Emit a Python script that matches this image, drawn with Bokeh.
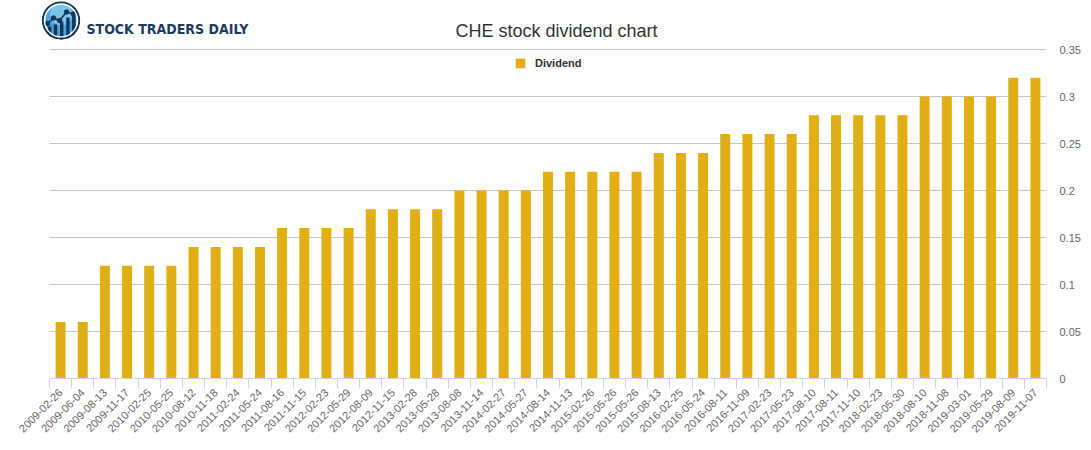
import math
from bokeh.plotting import figure
from bokeh.models import Range1d, FixedTicker, LinearAxis, NumeralTickFormatter, ColumnDataSource
from bokeh.embed import file_html
from bokeh.resources import INLINE
from bokeh.core.properties import value

title_text = "CHE stock dividend chart"
brand_text = "STOCK TRADERS DAILY"
series_name = "Dividend"

dates = [
    "2009-02-26", "2009-06-04", "2009-08-13", "2009-11-17", "2010-02-25",
    "2010-05-25", "2010-08-12", "2010-11-18", "2011-02-24", "2011-05-24",
    "2011-08-16", "2011-11-15", "2012-02-23", "2012-05-29", "2012-08-09",
    "2012-11-15", "2013-02-28", "2013-05-28", "2013-08-08", "2013-11-14",
    "2014-02-27", "2014-05-27", "2014-08-14", "2014-11-13", "2015-02-26",
    "2015-05-26", "2015-05-26", "2015-08-13", "2016-02-25", "2016-05-24",
    "2016-08-11", "2016-11-09", "2017-02-23", "2017-05-23", "2017-08-10",
    "2017-08-11", "2017-11-10", "2018-02-23", "2018-05-30", "2018-08-10",
    "2018-11-08", "2019-03-01", "2019-05-29", "2019-08-09", "2019-11-07",
]
dividends = [
    0.06, 0.06, 0.12, 0.12, 0.12,
    0.12, 0.14, 0.14, 0.14, 0.14,
    0.16, 0.16, 0.16, 0.16, 0.18,
    0.18, 0.18, 0.18, 0.20, 0.20,
    0.20, 0.20, 0.22, 0.22, 0.22,
    0.22, 0.22, 0.24, 0.24, 0.24,
    0.26, 0.26, 0.26, 0.26, 0.28,
    0.28, 0.28, 0.28, 0.28, 0.30,
    0.30, 0.30, 0.30, 0.32, 0.32,
]
y_ticks = [0, 0.05, 0.1, 0.15, 0.2, 0.25, 0.3, 0.35]

BAR = "#e1ae14"
NAVY = "#15365a"
W, H = 1091, 450

n = len(dates)
positions = list(range(n))
boundaries = [i - 0.5 for i in range(n + 1)]

# frame covers px x 0..1046, y 0..378; the bar area proper is x 49..1046, y 49..378
PLOT_W, PLOT_H, EXTRA_L, EXTRA_T = 997, 329, 49, 49
y_max = y_ticks[-1]
x_start = -0.5 - EXTRA_L * n / PLOT_W
y_end = y_max + EXTRA_T * y_max / PLOT_H

p = figure(width=W, height=H,
           x_range=Range1d(x_start, n - 0.5), y_range=Range1d(0, y_end),
           y_axis_location="right", toolbar_location=None, output_backend="svg",
           min_border_left=0, min_border_right=45, min_border_top=0, min_border_bottom=72,
           outline_line_color=None)

# header drawn in page-pixel coordinates
p.extra_x_ranges = {"hx": Range1d(0, 1046)}
p.extra_y_ranges = {"hy": Range1d(378, 0)}
hk = dict(x_range_name="hx", y_range_name="hy")

cx, cy = [60.5], [20]
p.circle(x=cx, y=cy, radius=15.8, fill_color="#4aa5e2", line_color=None, **hk)
p.circle(x=[60.5], y=[14], radius=11, fill_color="#a6dcf8", fill_alpha=0.55, line_color=None, **hk)
p.vbar(x=[49.2, 55, 61.2, 67.4, 73.3], width=3.4, top=[26, 24, 21, 17, 15.5], bottom=40,
       fill_color=NAVY, line_color=None, **hk)
p.line(x=[47, 53, 59, 66, 73], y=[23, 17.5, 20, 11.5, 13.5], line_color=NAVY, line_width=1.6, **hk)
p.scatter(x=[47, 53, 59, 66, 73], y=[23, 17.5, 20, 11.5, 13.5], size=4.5, fill_color=NAVY,
          line_color=NAVY, **hk)
p.annulus(x=cx, y=cy, inner_radius=15.8, outer_radius=17.3, fill_color="white", line_color=None, **hk)
p.annulus(x=cx, y=cy, inner_radius=17.3, outer_radius=19.3, fill_color=NAVY, line_color=None, **hk)
p.annulus(x=cx, y=cy, inner_radius=19.3, outer_radius=25, fill_color="white", line_color=None, **hk)

p.text(x=[86], y=[28], text=[brand_text],
       text_font=value("Liberation Sans Narrow, DejaVu Sans Condensed, sans-serif"),
       text_font_size="14px", text_font_style="bold", text_color="#1d3b5c",
       text_align="left", text_baseline="alphabetic", **hk)
p.text(x=[556], y=[30], text=[title_text], text_font=value("Liberation Sans"),
       text_font_size="18px", text_color="#333333",
       text_align="center", text_baseline="alphabetic", **hk)

# bars
src = ColumnDataSource(dict(x=positions, top=dividends, date=dates))
p.vbar(x="x", top="top", width=0.45, source=src, fill_color=BAR, line_color=None,
       legend_label=series_name)

# axis A: line + boundary ticks
xa = p.xaxis[0]
xa.ticker = FixedTicker(ticks=boundaries)
xa.bounds = (-0.5, n - 0.5)
xa.axis_line_color = "#ccd6eb"
xa.major_tick_line_color = "#ccd6eb"
xa.major_tick_in = 0
xa.major_tick_out = 10
xa.minor_tick_in = 0
xa.minor_tick_out = 0
xa.minor_tick_line_color = None
xa.major_label_text_font_size = "0px"
xa.major_label_text_alpha = 0
xa.major_label_standoff = 0

# axis B: rotated date labels centred on the bars
xb = LinearAxis(ticker=FixedTicker(ticks=positions),
                major_label_overrides={i: d for i, d in enumerate(dates)},
                major_label_orientation=math.pi / 4,
                axis_line_color=None, major_tick_line_color=None, minor_tick_line_color=None,
                major_tick_in=0, major_tick_out=0, minor_tick_in=0, minor_tick_out=0,
                major_label_standoff=2, major_label_text_font_size="11px",
                major_label_text_color="#666666", major_label_text_font="Liberation Sans")
p.below = [xa, xb]

ya = p.yaxis[0]
ya.ticker = FixedTicker(ticks=y_ticks)
ya.bounds = (0, y_max)
ya.formatter = NumeralTickFormatter(format="0.[00]")
ya.axis_line_color = None
ya.major_tick_line_color = None
ya.minor_tick_line_color = None
ya.major_tick_in = 0
ya.major_tick_out = 0
ya.major_label_standoff = 13
ya.major_label_text_font_size = "11px"
ya.major_label_text_color = "#666666"
ya.major_label_text_font = "Liberation Sans"

p.xgrid.visible = False
yg = p.ygrid[0]
yg.grid_line_color = "#c6c6c6"
yg.bounds = (0, y_max)
try:
    yg.cross_bounds = (-0.5, n - 0.5)
except AttributeError:
    yg.visible = False
    p.segment(x0=[-0.5] * len(y_ticks), x1=[n - 0.5] * len(y_ticks), y0=y_ticks, y1=y_ticks,
              line_color="#c6c6c6", line_width=1, level="underlay")

lg = p.legend[0]
lg.location = (514, 309)
lg.margin = 0
lg.padding = 8
lg.spacing = 0
lg.glyph_width = 12
lg.glyph_height = 12
lg.label_height = 12
lg.label_standoff = 9
lg.label_text_font_size = "11px"
lg.label_text_font_style = "bold"
lg.label_text_color = "#333333"
lg.label_text_font = "Liberation Sans"
lg.border_line_color = None
lg.background_fill_alpha = 0

open("out.html", "w").write(file_html(p, INLINE))
